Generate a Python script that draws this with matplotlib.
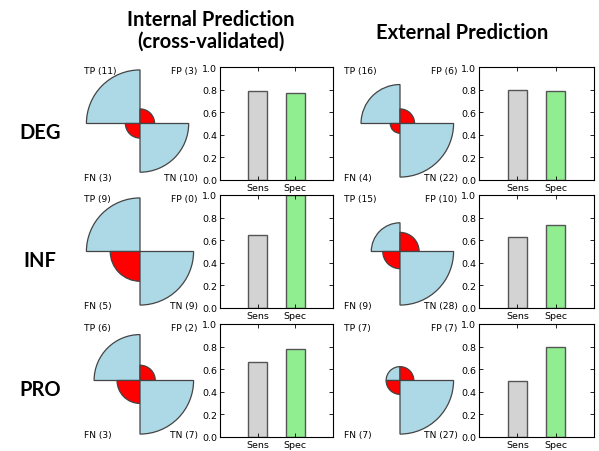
"""
Fourfold plots + sensitivity/specificity bars for DEG / INF / PRO
"""

import matplotlib
matplotlib.use('Agg')
import matplotlib.pyplot as plt
from matplotlib.patches import Wedge


ROWS = ['DEG', 'INF', 'PRO']
COLUMNS = ['Internal Prediction\n(cross-validated)', 'External Prediction']
BAR_LABELS = ['Sens', 'Spec']

# counts, one list per column group, rows in ROWS order
internal_tp = [11, 9, 6]
internal_fp = [3, 0, 2]
internal_fn = [3, 5, 3]
internal_tn = [10, 9, 7]

external_tp = [16, 15, 7]
external_fp = [6, 10, 7]
external_fn = [4, 9, 7]
external_tn = [22, 28, 27]

# bar heights
internal_sens = [0.786, 0.643, 0.667]
internal_spec = [0.769, 1.0, 0.778]
external_sens = [0.80, 0.625, 0.50]
external_spec = [0.786, 0.737, 0.794]

BLUE = '#add8e6'
RED = '#ff0000'
BAR_COLORS = ['#d3d3d3', '#90ee90']

W, H = 599, 452
ROW_TOPS = [68, 196, 325]
ROW_H = 113
PIE_X = [80, 340]
BAR_X = [220, 479]
BAR_W = [113, 115]


def px_rect(x, top, w, h):
    return [x / W, (H - top - h) / H, w / W, h / H]


def draw_fourfold(ax, tp, fp, fn, tn):
    """四分图: 半径与计数成正比，按本面板最大值归一"""
    top = max(tp, fp, fn, tn)
    quads = [(tp, 90, 180, BLUE), (fp, 0, 90, RED),
             (fn, 180, 270, RED), (tn, 270, 360, BLUE)]
    for n, a0, a1, col in quads:
        r = n / top
        if r <= 0:
            continue
        ax.add_patch(Wedge((0, 0), r, a0, a1, facecolor=col,
                           edgecolor='#444444', linewidth=0.9))
    ax.set_xlim(-1.12, 1.12)
    ax.set_ylim(-1.1, 1.1)
    ax.set_aspect('equal', adjustable='datalim')
    ax.axis('off')
    kw = dict(fontsize=6.6, transform=ax.transAxes)
    ax.text(0.03, 0.97, f'TP ({tp})', ha='left', va='center', **kw)
    ax.text(0.98, 0.97, f'FP ({fp})', ha='right', va='center', **kw)
    ax.text(0.03, 0.02, f'FN ({fn})', ha='left', va='center', **kw)
    ax.text(0.98, 0.02, f'TN ({tn})', ha='right', va='center', **kw)


def draw_bars(ax, sens, spec):
    ax.bar([0, 1], [sens, spec], width=0.5, color=BAR_COLORS,
           edgecolor='#555555', linewidth=1.0)
    ax.set_xlim(-1, 2)
    ax.set_ylim(0, 1.0)
    ax.set_xticks([0, 1])
    ax.set_xticklabels(BAR_LABELS)
    ax.set_yticks([0, 0.2, 0.4, 0.6, 0.8, 1.0])
    ax.set_yticklabels(['0.0', '0.2', '0.4', '0.6', '0.8', '1.0'])
    ax.tick_params(direction='in', length=3, width=0.6, labelsize=6.8,
                   top=True, right=True, pad=2)
    for s in ax.spines.values():
        s.set_linewidth(0.8)


fig = plt.figure(figsize=(W / 100, H / 100), dpi=100)

groups = [
    (internal_tp, internal_fp, internal_fn, internal_tn, internal_sens, internal_spec),
    (external_tp, external_fp, external_fn, external_tn, external_sens, external_spec),
]

for g, (tp, fp, fn, tn, sens, spec) in enumerate(groups):
    for i in range(len(ROWS)):
        pax = fig.add_axes(px_rect(PIE_X[g], ROW_TOPS[i], 120, ROW_H))
        draw_fourfold(pax, tp[i], fp[i], fn[i], tn[i])
        bax = fig.add_axes(px_rect(BAR_X[g], ROW_TOPS[i], BAR_W[g], ROW_H))
        draw_bars(bax, sens[i], spec[i])

title_font = ['Lato', 'DejaVu Sans']
fig.text(211 / W, 1 - 31 / H, COLUMNS[0], ha='center', va='center',
         fontsize=14.5, fontweight='bold', family=title_font, linespacing=1.1)
fig.text(462 / W, 1 - 33 / H, COLUMNS[1], ha='center', va='center',
         fontsize=14.5, fontweight='bold', family=title_font)

for i, name in enumerate(ROWS):
    fig.text(40 / W, 1 - (ROW_TOPS[i] + 65) / H, name, ha='center', va='center',
             fontsize=14.5, fontweight='bold', family=title_font)

plt.savefig('out.png', dpi=100)
plt.close()
